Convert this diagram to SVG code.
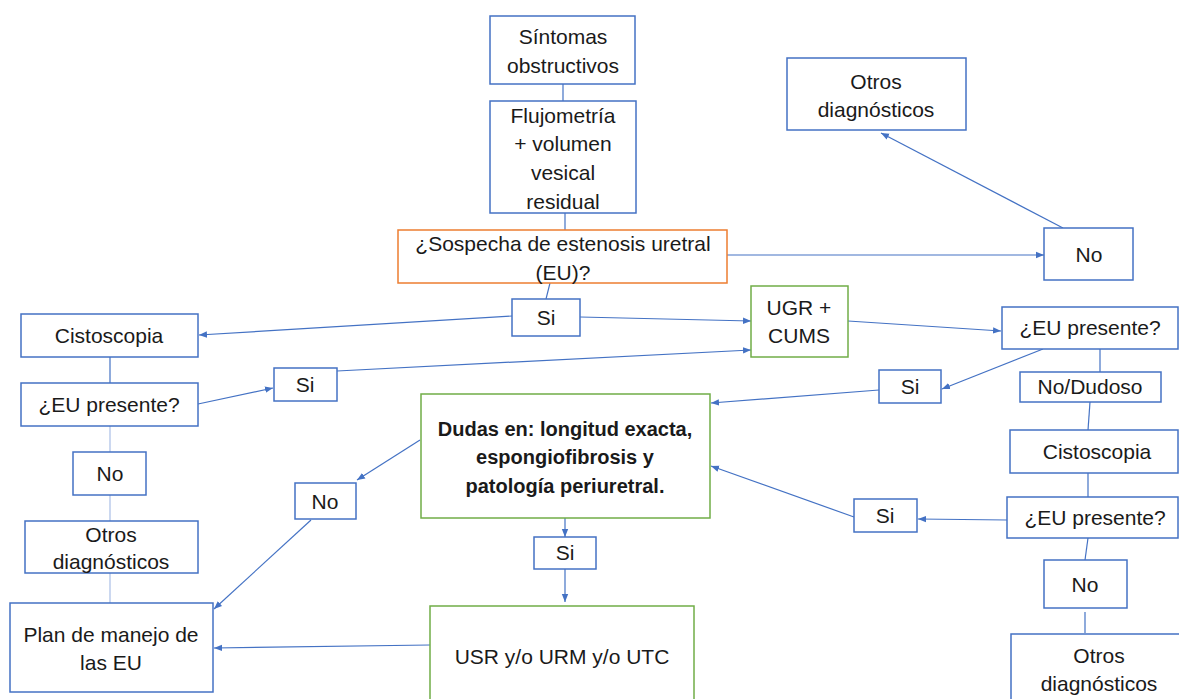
<svg xmlns="http://www.w3.org/2000/svg" width="1179" height="699" viewBox="0 0 1179 699">
<style>
.n{fill:#fff;stroke:#4472C4;stroke-width:1.5}
.g{fill:#fff;stroke:#70AD47;stroke-width:1.5}
.o{fill:#fff;stroke:#ED7D31;stroke-width:1.5}
text{font-family:"Liberation Sans",Arial,sans-serif;font-size:21px;fill:#1a1a1a;text-anchor:middle}
.b{font-weight:bold;font-size:20px}
.c{stroke:#4472C4;stroke-width:1.2;fill:none}
.l{stroke:#A9BEE6;stroke-width:1.2;fill:none}
</style>
<defs>
<marker id="a" viewBox="0 0 10 10" refX="10" refY="5" markerWidth="8" markerHeight="8" orient="auto" markerUnits="userSpaceOnUse">
<path d="M0,1 L10,5 L0,9 z" fill="#4472C4"/>
</marker>
</defs>
<rect width="1179" height="699" fill="#fff"/>
<g id="connectors">
<line class="c" x1="563" y1="84" x2="563" y2="101"/>
<line class="c" x1="565" y1="213" x2="565" y2="230"/>
<line class="c" x1="550" y1="283" x2="546" y2="299"/>
<line class="c" x1="727" y1="255" x2="1044" y2="255" marker-end="url(#a)"/>
<line class="c" x1="1063" y1="228" x2="881" y2="133" marker-end="url(#a)"/>
<line class="c" x1="580" y1="317" x2="751" y2="321" marker-end="url(#a)"/>
<line class="c" x1="512" y1="316" x2="199" y2="335" marker-end="url(#a)"/>
<line class="c" x1="110" y1="357" x2="110" y2="383"/>
<line class="c" x1="198" y1="404" x2="273" y2="388" marker-end="url(#a)"/>
<line class="c" x1="337" y1="371" x2="751" y2="350" marker-end="url(#a)"/>
<line class="l" x1="110" y1="426" x2="110" y2="452"/>
<line class="l" x1="110" y1="495" x2="110" y2="521"/>
<line class="l" x1="110" y1="573" x2="110" y2="603"/>
<line class="c" x1="420" y1="440" x2="357" y2="480" marker-end="url(#a)"/>
<line class="c" x1="311" y1="520" x2="214" y2="609" marker-end="url(#a)"/>
<line class="c" x1="565" y1="518" x2="565" y2="537" marker-end="url(#a)"/>
<line class="c" x1="565" y1="569" x2="565" y2="602" marker-end="url(#a)"/>
<line class="c" x1="430" y1="645" x2="214" y2="648" marker-end="url(#a)"/>
<line class="c" x1="848" y1="321" x2="1001" y2="331" marker-end="url(#a)"/>
<line class="c" x1="1043" y1="349" x2="942" y2="389" marker-end="url(#a)"/>
<line class="c" x1="879" y1="390" x2="711" y2="403" marker-end="url(#a)"/>
<line class="c" x1="1100" y1="349" x2="1100" y2="372"/>
<line class="c" x1="1090" y1="402" x2="1088" y2="430"/>
<line class="c" x1="1088" y1="473" x2="1088" y2="497"/>
<line class="c" x1="1007" y1="520" x2="918" y2="519" marker-end="url(#a)"/>
<line class="c" x1="854" y1="517" x2="711" y2="466" marker-end="url(#a)"/>
<line class="c" x1="1088" y1="538" x2="1085" y2="560"/>
<line class="c" x1="1085" y1="612" x2="1085" y2="633"/>
</g>
<g id="sintomas"><rect class="n" x="490" y="16" width="145" height="68"/><text x="563" y="44">Síntomas</text><text x="563" y="73">obstructivos</text></g>
<g id="flujometria"><rect class="n" x="490" y="101" width="146" height="112"/><text x="563" y="123">Flujometría</text><text x="563" y="151">+ volumen</text><text x="563" y="180">vesical</text><text x="563" y="209">residual</text></g>
<g id="sospecha"><rect class="o" x="398" y="230" width="329" height="53"/><text x="563" y="251">¿Sospecha de estenosis uretral</text><text x="563" y="280">(EU)?</text></g>
<g id="no_top"><rect class="n" x="1044" y="228" width="89" height="52"/><text x="1089" y="262">No</text></g>
<g id="otros_top"><rect class="n" x="787" y="58" width="179" height="72"/><text x="876" y="89">Otros</text><text x="876" y="117">diagnósticos</text></g>
<g id="si_center"><rect class="n" x="512" y="299" width="68" height="37"/><text x="546" y="325">Si</text></g>
<g id="ugr"><rect class="g" x="751" y="286" width="97" height="71"/><text x="799" y="315">UGR +</text><text x="799" y="343">CUMS</text></g>
<g id="cisto_left"><rect class="n" x="21" y="314" width="177" height="43"/><text x="109" y="343">Cistoscopia</text></g>
<g id="eu_left"><rect class="n" x="21" y="383" width="177" height="43"/><text x="109" y="412">¿EU presente?</text></g>
<g id="si_left"><rect class="n" x="274" y="368" width="63" height="33"/><text x="305" y="392">Si</text></g>
<g id="no_left"><rect class="n" x="73" y="452" width="73" height="43"/><text x="110" y="481">No</text></g>
<g id="otros_left"><rect class="n" x="25" y="521" width="173" height="52"/><text x="111" y="542">Otros</text><text x="111" y="569">diagnósticos</text></g>
<g id="plan"><rect class="n" x="10" y="603" width="203" height="89"/><text x="111" y="642">Plan de manejo de</text><text x="111" y="670">las EU</text></g>
<g id="no_center"><rect class="n" x="295" y="483" width="61" height="36"/><text x="325" y="509">No</text></g>
<g id="dudas"><rect class="g" x="421" y="394" width="289" height="124"/><text class="b" x="565" y="436">Dudas en: longitud exacta,</text><text class="b" x="565" y="464">espongiofibrosis y</text><text class="b" x="565" y="493">patología periuretral.</text></g>
<g id="si_dudas"><rect class="n" x="534" y="537" width="62" height="32"/><text x="565" y="560">Si</text></g>
<g id="usr"><rect class="g" x="430" y="606" width="264" height="100"/><text x="562" y="664">USR y/o URM y/o UTC</text></g>
<g id="eu_right"><rect class="n" x="1002" y="307" width="176" height="42"/><text x="1090" y="335">¿EU presente?</text></g>
<g id="si_right"><rect class="n" x="879" y="370" width="62" height="33"/><text x="910" y="394">Si</text></g>
<g id="nodudoso"><rect class="n" x="1020" y="372" width="141" height="30"/><text x="1090" y="394">No/Dudoso</text></g>
<g id="cisto_right"><rect class="n" x="1010" y="430" width="168" height="43"/><text x="1097" y="459">Cistoscopia</text></g>
<g id="eu_right2"><rect class="n" x="1007" y="497" width="171" height="41"/><text x="1095" y="525">¿EU presente?</text></g>
<g id="si_right2"><rect class="n" x="854" y="499" width="63" height="33"/><text x="885" y="523">Si</text></g>
<g id="no_right"><rect class="n" x="1044" y="560" width="83" height="48"/><text x="1085" y="592">No</text></g>
<g id="otros_right"><rect class="n" x="1011" y="634" width="170" height="80"/><text x="1099" y="663">Otros</text><text x="1099" y="691">diagnósticos</text></g>
</svg>
